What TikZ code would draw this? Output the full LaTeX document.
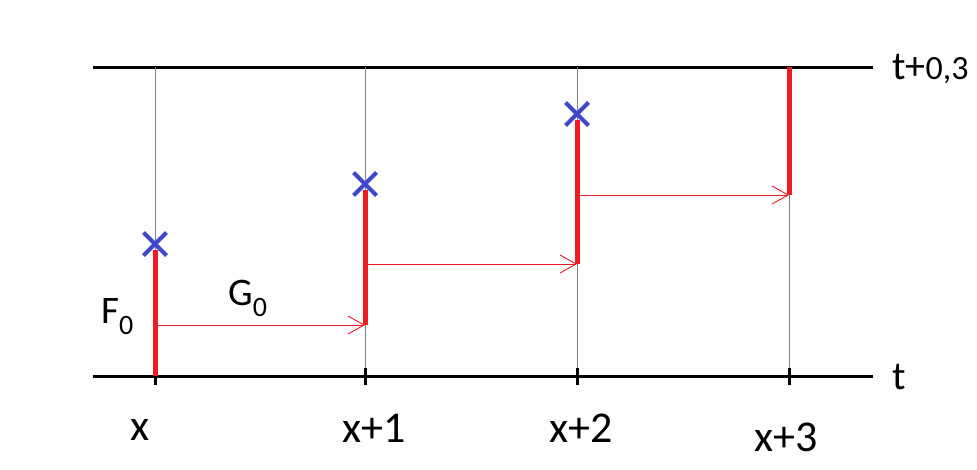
\documentclass[tikz,border=0pt]{standalone}
\usepackage{fontspec}
\setmainfont{Carlito}
\usepackage{xcolor}
\usetikzlibrary{positioning,calc,arrows.meta,shapes.misc}
\definecolor{paintred}{RGB}{237,28,36}
\definecolor{paintblue}{RGB}{63,72,204}
\newcommand{\subnull}{\raisebox{-11pt}{\fontsize{28}{28}\selectfont 0}}

\begin{document}
\begin{tikzpicture}[x=1pt,y=-1pt,
    axis/.style={black,line width=3pt},
    gridline/.style={gray,line width=0.8pt},
    jump/.style={paintred,line width=5pt},
    flow/.style={paintred,line width=0.9pt,-{Straight Barb[length=16pt,width=18pt,line width=0.9pt]}},
    marker/.style={cross out,draw=paintblue,line width=4pt,minimum size=19pt,inner sep=0pt},
    lbl/.style={font=\fontsize{44}{44}\selectfont,inner sep=0pt}]
    \useasboundingbox (0,0) rectangle (977,469);
    % time levels
    \coordinate (tl) at (93,67);
    \coordinate (tr) at (873,67);
    \coordinate (bl) at (93,376);
    \coordinate (br) at (873,376);
    \draw[axis] (tl) -- (tr);
    \draw[axis] (bl) -- (br);
    % grid lines and ticks
    \foreach \n/\xx in {0/155,1/365,2/577,3/789} {
        \coordinate (top\n) at (\xx,67);
        \coordinate (bot\n) at (\xx,376);
        \draw[gridline] (top\n) -- (bot\n);
        \draw[axis] (\xx,368) -- (\xx,385);
    }
    % red jumps
    \coordinate (j0) at (155,250);
    \coordinate (s1) at (365,325);
    \coordinate (j1) at (365,190);
    \coordinate (s2) at (577,264);
    \coordinate (j2) at (577,120);
    \coordinate (s3) at (789,195);
    \draw[jump] (bot0) -- (j0);
    \draw[jump] (s1) -- (j1);
    \draw[jump] (s2) -- (j2);
    \draw[jump] (s3) -- (top3);
    % transport arrows
    \coordinate (s0) at (155,325);
    \draw[flow] (s0) -- (s1);
    \draw[flow] (s1 |- s2) -- (s2);
    \draw[flow] (s2 |- s3) -- (s3);
    % crosses
    \node[marker] (m0) at (155,244) {};
    \node[marker] (m1) at (365,184) {};
    \node[marker] (m2) at (577,114) {};
    % labels
    \node[lbl] (lx0) at (140,430) {x};
    \node[lbl] (lx1) at (374,428) {x+1};
    \node[lbl] (lx2) at (581,428) {x+2};
    \node[lbl] (lx3) at (786,437) {x+3};
    \node[lbl,font=\fontsize{40}{40}\selectfont] (lt) at (899,377) {t};
    \node[lbl,font=\fontsize{40}{40}\selectfont,anchor=base west] (ltop) at (892,79) {t+{\fontsize{34}{34}\selectfont 0,3}};
    \node[lbl,font=\fontsize{39}{39}\selectfont,anchor=base west] (lF) at (101,323) {F\subnull};
    \node[lbl,font=\fontsize{39}{39}\selectfont,anchor=base west] (lG) at (228,305) {G\subnull};
\end{tikzpicture}
\end{document}
